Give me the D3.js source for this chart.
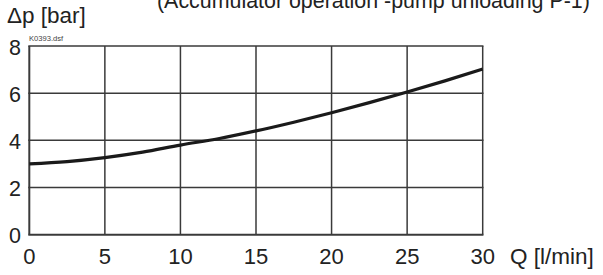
<!DOCTYPE html>
<html><head><meta charset="utf-8">
<script src="https://cdn.jsdelivr.net/npm/d3@7"></script>
<style>body{margin:0;background:#fff}svg{display:block;font-family:"Liberation Sans",Arial,sans-serif}</style>
</head><body>
<svg id="c" width="603" height="275"></svg>
<script>
const flow = [0, 2.5, 5, 7.5, 10, 12.5, 15, 17.5, 20, 22.5, 25, 27.5, 30];
const pressure = [3.0, 3.1, 3.27, 3.5, 3.8, 4.07, 4.4, 4.77, 5.17, 5.6, 6.05, 6.52, 7.02];
const xTicks = [0, 5, 10, 15, 20, 25, 30];
const yTicks = [0, 2, 4, 6, 8];
const title = "(Accumulator operation -pump unloading P-1)";
const yLabel = "\u0394p [bar]";
const xLabel = "Q [l/min]";
const fileTag = "K0393.dsf";

const svg = d3.select("#c");
const x = d3.scaleLinear().domain([0, 30]).range([29.3, 482.7]);
const y = d3.scaleLinear().domain([0, 8]).range([234.7, 46]);

const g = svg.append("g");
g.selectAll(".vg").data(xTicks).enter().append("line")
  .attr("x1", d => x(d)).attr("x2", d => x(d)).attr("y1", y(0)).attr("y2", y(8))
  .attr("stroke", "#3a3a3a").attr("stroke-width", d => d === 0 ? 2 : 1.5);
g.selectAll(".hg").data(yTicks).enter().append("line")
  .attr("y1", d => y(d)).attr("y2", d => y(d)).attr("x1", x(0) - 1).attr("x2", x(30) + 0.75)
  .attr("stroke", "#3a3a3a").attr("stroke-width", d => d === 0 ? 2 : 1.5);

const line = d3.line().x(d => x(d[0])).y(d => y(d[1])).curve(d3.curveMonotoneX);
svg.append("path").datum(flow.map((f, i) => [f, pressure[i]]))
  .attr("d", line).attr("fill", "none").attr("stroke", "#1a1a1a").attr("stroke-width", 3.2);

svg.selectAll(".yl").data(yTicks).enter().append("text")
  .attr("x", 21).attr("y", d => y(d) + 8.5).attr("text-anchor", "end")
  .attr("font-size", 21.5).attr("fill", "#222").text(d => d);
svg.selectAll(".xl").data(xTicks).enter().append("text")
  .attr("x", d => x(d)).attr("y", 264).attr("text-anchor", "middle")
  .attr("font-size", 22).attr("fill", "#222").text(d => d);

svg.append("text").attr("x", 510).attr("y", 264).attr("font-size", 22.5).attr("fill", "#222").text(xLabel);
svg.append("text").attr("x", 7).attr("y", 22.5).attr("font-size", 22.5).attr("fill", "#222").text(yLabel);
svg.append("text").attr("x", 157).attr("y", 8).attr("font-size", 21.4).attr("fill", "#222").text(title);
svg.append("text").attr("x", 29).attr("y", 40.5).attr("font-size", 7.6).attr("fill", "#444").text(fileTag);
</script>
</body></html>
